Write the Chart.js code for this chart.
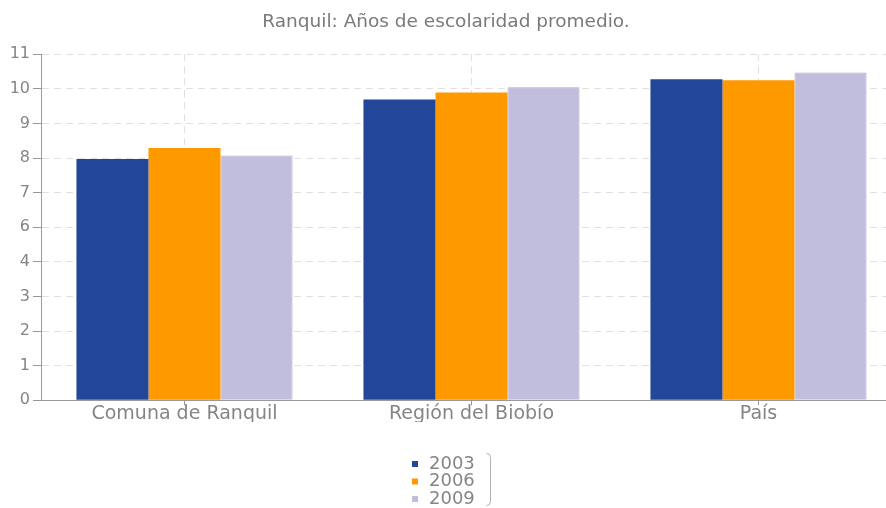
<!DOCTYPE html>
<html>
<head>
<meta charset="utf-8">
<script src="https://cdn.jsdelivr.net/npm/chart.js@4.4.1/dist/chart.umd.min.js"></script>
<style>
html, body { margin: 0; padding: 0; background: #fff; overflow: hidden; }
#wrap { width: 886px; height: 508px; overflow: hidden; }
</style>
</head>
<body>
<div id="wrap"><canvas id="chart" width="902" height="508"></canvas></div>
<script>
const categories = ["Comuna de Ranquil", "Región del Biobío", "País"];
const years = ["2003", "2006", "2009"];
const values2003 = [7.67, 9.56, 10.2];
const values2006 = [8.02, 9.78, 10.17];
const values2009 = [7.78, 9.95, 10.42];
const yTickLabels = ["0", "1", "2", "3", "4", "6", "7", "8", "9", "10", "11"];

const FONT = '"DejaVu Sans", Verdana, sans-serif';
const GRAY = "#858585";

// legend drawn as a column with a bracket on the right, like the original
const columnLegend = {
    id: "columnLegend",
    afterDraw(chart) {
        const ctx = chart.ctx;
        const x0 = 412, y0 = 464, rowH = 17.5;
        ctx.save();
        ctx.font = "18px " + FONT;
        ctx.textBaseline = "middle";
        chart.data.datasets.forEach((ds, i) => {
            const y = y0 + i * rowH;
            ctx.fillStyle = ds.backgroundColor;
            ctx.fillRect(x0, y - 3, 6, 6);
            ctx.fillStyle = GRAY;
            ctx.fillText(ds.label, x0 + 17, y);
        });
        ctx.strokeStyle = "#b0b0b0";
        ctx.lineWidth = 1;
        ctx.beginPath();
        ctx.moveTo(486.5, 453.5);
        ctx.quadraticCurveTo(490.5, 453.5, 490.5, 457.5);
        ctx.lineTo(490.5, 501.5);
        ctx.quadraticCurveTo(490.5, 505.5, 486.5, 505.5);
        ctx.stroke();
        ctx.restore();
    }
};

const ctx = document.getElementById("chart").getContext("2d");

new Chart(ctx, {
    type: "bar",
    data: {
        labels: categories,
        datasets: [
            { label: years[0], data: values2003, backgroundColor: "#224799", borderWidth: 0 },
            { label: years[1], data: values2006, backgroundColor: "#ff9900", borderWidth: 0 },
            { label: years[2], data: values2009, backgroundColor: "#c1bddc", borderColor: "#aeaac8", borderWidth: 1 }
        ]
    },
    options: {
        responsive: false,
        animation: false,
        layout: { padding: { left: -10, right: 0, top: 0, bottom: 86 } },
        datasets: {
            bar: { barPercentage: 1, categoryPercentage: 0.753 }
        },
        plugins: {
            legend: { display: false },
            tooltip: { enabled: false },
            title: {
                display: true,
                text: "Ranquil: Años de escolaridad promedio.",
                color: "#7a7a7a",
                font: { family: FONT, size: 18.5, weight: "normal" },
                padding: { top: 11, bottom: 21 }
            }
        },
        scales: {
            x: {
                offset: true,
                grid: {
                    offset: false,
                    color: "#e0e0e0",
                    tickColor: "#999",
                    tickLength: 5,
                    tickBorderDash: []
                },
                border: { color: "#999", width: 1, dash: [7, 5] },
                ticks: {
                    color: GRAY,
                    padding: -3,
                    font: { family: FONT, size: 19 },
                    maxRotation: 0
                }
            },
            y: {
                min: 0,
                max: 11,
                afterFit(scale) { scale.width = 51; },
                grid: {
                    color: "#e0e0e0",
                    tickColor: "#999",
                    tickLength: 8,
                    tickBorderDash: []
                },
                border: { color: "#999", width: 1, dash: [7, 5] },
                ticks: {
                    stepSize: 1.1,
                    color: GRAY,
                    padding: 3,
                    font: { family: FONT, size: 16 },
                    callback: (v, i) => yTickLabels[i]
                }
            }
        }
    },
    plugins: [columnLegend]
});
</script>
</body>
</html>
